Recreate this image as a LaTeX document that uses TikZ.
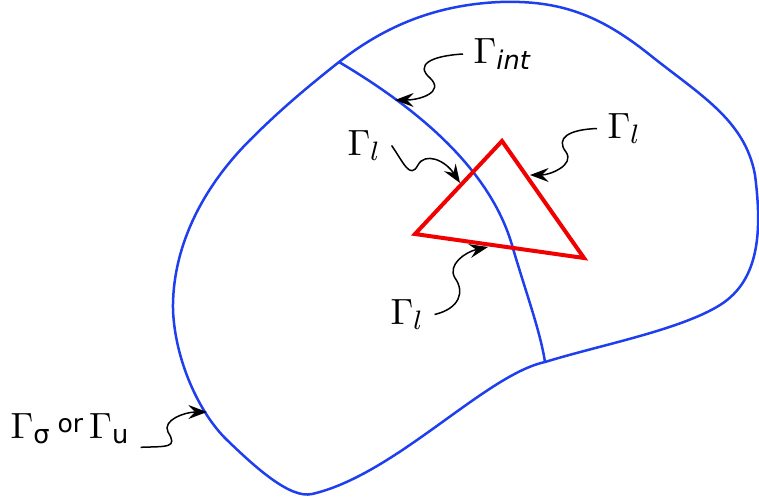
\documentclass[tikz,border=0pt]{standalone}
\usepackage{amsmath}
\usepackage{fontspec}
\newfontfamily\dejavu{DejaVu Sans}
\usepackage{tikz}
\usetikzlibrary{arrows.meta}
\definecolor{bdry}{HTML}{1F3FEE}
\definecolor{crack}{HTML}{F00000}

\begin{document}
\begin{tikzpicture}[
  x=0.3pt,y=-0.3pt,
  every node/.style={font=\fontsize{11}{13}\selectfont,inner sep=3pt},
  lbl/.style={anchor=base west},
  edge/.style={draw=bdry,line width=0.75pt},
  tri/.style={draw=crack,line width=1.2pt,line join=miter},
  ptr/.style={-{Stealth[length=5.6pt,width=4.2pt,inset=2pt]},line width=0.45pt,black}
]
\useasboundingbox (0,0) rectangle (759,503);
% outer boundary
\draw[edge] (339,62) .. controls (380,30) and (430,5) .. (500,2)
  .. controls (560,0) and (600,15) .. (650,55)
  .. controls (700,95) and (745,120) .. (755,175)
  .. controls (762,230) and (760,280) .. (720,305)
  .. controls (680,330) and (600,345) .. (545,362)
  .. controls (485,375) and (395,475) .. (312,494)
  .. controls (290,499) and (255,467) .. (227,440)
  .. controls (199,413) and (175,360) .. (173,310)
  .. controls (172,250) and (200,190) .. (250,140)
  .. controls (280,110) and (305,89) .. cycle;
% interface
\draw[edge] (339,62) .. controls (420,110) and (490,170) .. (512,245)
  .. controls (525,290) and (540,330) .. (545,362);
% triangle
\draw[tri] (502,141) -- (584,258) -- (415,234) -- cycle;

\node[lbl] (gint) at (463,63) {$\Gamma_{\text{\dejavu\itshape int}}$};
\node[lbl] (glr) at (597,138) {$\Gamma_l$};
\node[lbl] (gll) at (337,155) {$\Gamma_l$};
\node[lbl] (glb) at (380,324) {$\Gamma_l$};
\node[lbl] (gsu) at (0,438) {$\Gamma_{\text{\dejavu σ}}$\,\raisebox{1.8pt}{\fontsize{7.5}{9}\dejavu or}\,$\Gamma_{\text{\dejavu u}}$};

\coordinate (tint) at (395,100);
\coordinate (tlr) at (530,175);
\coordinate (tll) at (460,183);
\coordinate (tlb) at (488,247);
\coordinate (tsu) at (207,412);

\draw[ptr] (gint.west) .. controls +(-33,2) and (415,65) .. (430,78) .. controls (445,92) and (420,100) .. (tint);
\draw[ptr] (glr.west) .. controls +(-28,1) and (555,138) .. (566,152) .. controls (575,165) and (550,175) .. (tlr);
\draw[ptr] (gll.east) .. controls +(12,17) and (410,180) .. (418,165) .. controls (425,152) and (445,160) .. (tll);
\draw[ptr] (glb.east) .. controls +(25,-6) and (465,292) .. (455,278) .. controls (447,265) and (465,252) .. (tlb);
\draw[ptr] (gsu.-15) .. controls +(27,-1) and (178,448) .. (168,432) .. controls (162,420) and (185,412) .. (tsu);
\end{tikzpicture}
\end{document}
